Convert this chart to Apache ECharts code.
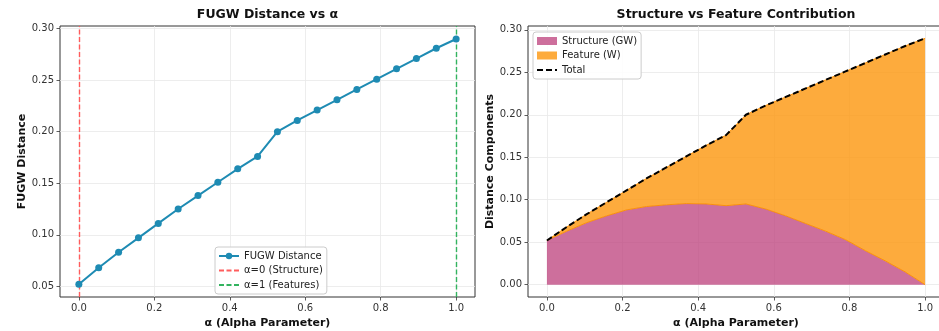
<!DOCTYPE html>
<html>
<head>
<meta charset="utf-8">
<script src="https://cdn.jsdelivr.net/npm/echarts@6/dist/echarts.min.js"></script>
<style>
  html, body { margin: 0; padding: 0; background: #ffffff; }
  #chart { width: 939px; height: 331px; }
</style>
</head>
<body>
<div id="chart"></div>
<script>
// Alpha sweep (20 evenly spaced values from 0 to 1)
const alphaValues = [0.0, 0.0526, 0.1053, 0.1579, 0.2105, 0.2632, 0.3158, 0.3684, 0.4211, 0.4737,
                     0.5263, 0.5789, 0.6316, 0.6842, 0.7368, 0.7895, 0.8421, 0.8947, 0.9474, 1.0];

// Total FUGW distance at each alpha
const fugwDistance = [0.052, 0.068, 0.083, 0.097, 0.111, 0.125, 0.138, 0.151, 0.164, 0.176,
                      0.200, 0.211, 0.221, 0.231, 0.241, 0.251, 0.261, 0.271, 0.281, 0.290];

// Structure (GW) component
const structureGW = [0.052, 0.063, 0.073, 0.081, 0.088, 0.092, 0.094, 0.0955, 0.095, 0.093,
                     0.095, 0.089, 0.081, 0.072, 0.063, 0.053, 0.040, 0.028, 0.015, 0.0];

// Feature (W) component
const featureW = [0.0, 0.005, 0.010, 0.016, 0.023, 0.033, 0.044, 0.0555, 0.069, 0.083,
                  0.105, 0.122, 0.140, 0.159, 0.178, 0.198, 0.221, 0.243, 0.266, 0.290];

// Reference alphas marked with vertical lines
const referenceAlphas = [0, 1];

// Tick positions
const xTicks = [0.0, 0.2, 0.4, 0.6, 0.8, 1.0];
const leftYTicks = [0.05, 0.10, 0.15, 0.20, 0.25, 0.30];
const rightYTicks = [0.00, 0.05, 0.10, 0.15, 0.20, 0.25, 0.30];

const FONT = 'DejaVu Sans';
const pairs = (ys) => alphaValues.map((a, i) => [a, ys[i]]);
// value-first rows so that stacking accumulates along y
const stackRows = (ys) => alphaValues.map((a, i) => [ys[i], a]);

function xAxisCfg(gridIndex) {
  return {
    type: 'value', gridIndex: gridIndex, min: -0.05, max: 1.05,
    name: 'α (Alpha Parameter)', nameLocation: 'middle', nameGap: 20,
    nameTextStyle: { fontFamily: FONT, fontSize: 11, fontWeight: 'bold', color: '#111' },
    axisLine: { show: false, onZero: false },
    axisTick: { show: true, length: 3.5, lineStyle: { color: '#333', width: 0.8 }, customValues: xTicks },
    axisLabel: { customValues: xTicks, formatter: (v) => v.toFixed(1), margin: 6,
                 fontFamily: FONT, fontSize: 10, color: '#333' },
    splitLine: { show: true, lineStyle: { color: '#e8e8e8', width: 0.8 } }
  };
}

function yAxisCfg(gridIndex, name, min, max, ticks, gap) {
  return {
    type: 'value', gridIndex: gridIndex, min: min, max: max,
    name: name, nameLocation: 'middle', nameGap: gap, nameRotate: 90,
    nameTextStyle: { fontFamily: FONT, fontSize: 11, fontWeight: 'bold', color: '#111' },
    axisLine: { show: false, onZero: false },
    axisTick: { show: true, length: 3.5, lineStyle: { color: '#333', width: 0.8 }, customValues: ticks },
    axisLabel: { customValues: ticks, formatter: (v) => v.toFixed(2), margin: 6,
                 fontFamily: FONT, fontSize: 10, color: '#333' },
    splitLine: { show: true, lineStyle: { color: '#e8e8e8', width: 0.8 } }
  };
}

const legendBase = {
  orient: 'vertical',
  itemWidth: 20, itemHeight: 8, itemGap: 2.5,
  padding: [3, 4, 3, 3],
  borderColor: '#cccccc', borderWidth: 1, borderRadius: 3,
  backgroundColor: 'rgba(255,255,255,0.85)',
  textStyle: { fontFamily: FONT, fontSize: 10, color: '#222', lineHeight: 12 }
};

// legend entries drawn as a plain line (no marker)
const lineOnly = (name) => ({ name: name, itemStyle: { opacity: 0 } });

const RED = '#ff5c5c';
const GREEN = '#33b35f';

const chart = echarts.init(document.getElementById('chart'), null, { renderer: 'canvas' });

chart.setOption({
  animation: false,
  backgroundColor: '#ffffff',
  graphic: [
    { type: 'text', x: 267.5, y: 15, style: { text: 'FUGW Distance vs α', align: 'center', verticalAlign: 'middle',
      font: 'bold 12.5px "DejaVu Sans"', fill: '#111' } },
    { type: 'text', x: 736, y: 15, style: { text: 'Structure vs Feature Contribution', align: 'center', verticalAlign: 'middle',
      font: 'bold 12.5px "DejaVu Sans"', fill: '#111' } }
  ],
  grid: [
    { left: 60, top: 26, width: 415, height: 271, outerBoundsMode: 'none', containLabel: false,
      show: true, borderColor: '#333', borderWidth: 1, backgroundColor: 'transparent' },
    { left: 528, top: 26, width: 416, height: 271, outerBoundsMode: 'none', containLabel: false,
      show: true, borderColor: '#333', borderWidth: 1, backgroundColor: 'transparent' }
  ],
  xAxis: [xAxisCfg(0), xAxisCfg(1)],
  yAxis: [
    yAxisCfg(0, 'FUGW Distance', 0.0396, 0.3026, leftYTicks, 31),
    yAxisCfg(1, 'Distance Components', -0.0145, 0.3045, rightYTicks, 32)
  ],
  legend: [
    Object.assign({}, legendBase, {
      left: 215, top: 247,
      data: ['FUGW Distance', lineOnly('α=0 (Structure)'), lineOnly('α=1 (Features)')]
    }),
    Object.assign({}, legendBase, {
      left: 533, top: 32,
      data: [
        { name: 'Structure (GW)', icon: 'rect', itemStyle: { color: 'rgba(188,63,123,0.75)', borderWidth: 0 } },
        { name: 'Feature (W)', icon: 'rect', itemStyle: { color: 'rgba(252,150,13,0.8)', borderWidth: 0 } },
        lineOnly('Total')
      ]
    })
  ],
  series: [
    {
      name: 'FUGW Distance', type: 'line', xAxisIndex: 0, yAxisIndex: 0,
      data: pairs(fugwDistance),
      symbol: 'circle', symbolSize: 7,
      lineStyle: { color: '#1e8bb3', width: 2 },
      itemStyle: { color: '#1e8bb3' },
      z: 5
    },
    {
      name: 'α=0 (Structure)', type: 'line', xAxisIndex: 0, yAxisIndex: 0, data: [],
      symbol: 'none',
      lineStyle: { color: RED, width: 1.4, type: [5, 2.5] },
      itemStyle: { color: RED },
      markLine: {
        silent: true, symbol: 'none', label: { show: false },
        lineStyle: { color: RED, width: 1.4, type: [5, 2.5] },
        data: [{ xAxis: referenceAlphas[0] }]
      }
    },
    {
      name: 'α=1 (Features)', type: 'line', xAxisIndex: 0, yAxisIndex: 0, data: [],
      symbol: 'none',
      lineStyle: { color: GREEN, width: 1.4, type: [5, 2.5] },
      itemStyle: { color: GREEN },
      markLine: {
        silent: true, symbol: 'none', label: { show: false },
        lineStyle: { color: GREEN, width: 1.4, type: [5, 2.5] },
        data: [{ xAxis: referenceAlphas[1] }]
      }
    },
    {
      name: 'Structure (GW)', type: 'line', xAxisIndex: 1, yAxisIndex: 1, stack: 'parts',
      data: stackRows(structureGW), encode: { x: 1, y: 0 }, symbol: 'none',
      lineStyle: { color: 'rgba(250,140,0,0.9)', width: 1 },
      itemStyle: { color: 'rgba(188,63,123,0.75)' },
      areaStyle: { color: 'rgba(188,63,123,0.75)', opacity: 1 }
    },
    {
      name: 'Feature (W)', type: 'line', xAxisIndex: 1, yAxisIndex: 1, stack: 'parts',
      data: stackRows(featureW), encode: { x: 1, y: 0 }, symbol: 'none',
      lineStyle: { color: 'rgba(250,140,0,0.9)', width: 1 },
      itemStyle: { color: 'rgba(252,150,13,0.8)' },
      areaStyle: { color: 'rgba(252,150,13,0.8)', opacity: 1 }
    },
    {
      name: 'Total', type: 'line', xAxisIndex: 1, yAxisIndex: 1,
      data: pairs(fugwDistance), symbol: 'none',
      lineStyle: { color: '#000000', width: 2, type: [6, 3] },
      itemStyle: { color: '#000000' },
      z: 5
    }
  ]
});
</script>
</body>
</html>
